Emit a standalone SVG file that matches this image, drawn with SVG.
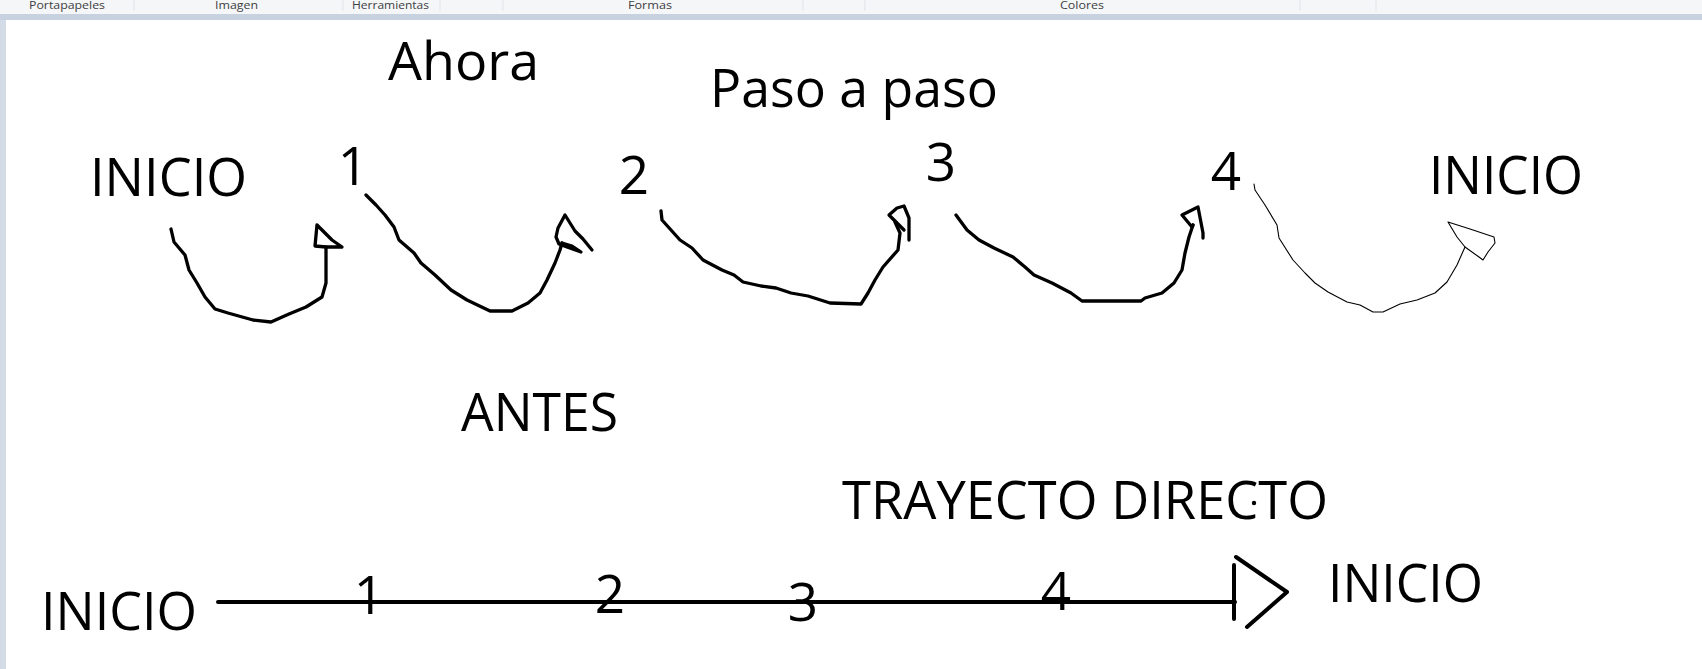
<svg xmlns="http://www.w3.org/2000/svg" width="1702" height="669" viewBox="0 0 1702 669">
<style>
.lbl{font-family:"Open Sans","Noto Sans","Liberation Sans",sans-serif;font-size:53px;fill:#000}
.num{font-family:"Open Sans","Noto Sans","Liberation Sans",sans-serif;font-size:53px;fill:#000;text-anchor:middle}
.hdr{font-family:"Open Sans","Noto Sans","Liberation Sans",sans-serif;font-size:11px;fill:#3c4043}
.sep{stroke:#e1e3e6;stroke-width:1}
.ink{fill:none;stroke:#000;stroke-width:3.3;stroke-linejoin:round;stroke-linecap:round}
.thin{fill:none;stroke:#000;stroke-width:1.1;stroke-linejoin:round;stroke-linecap:round}
.bold{fill:none;stroke:#000;stroke-width:4;stroke-linejoin:round;stroke-linecap:round}
</style>
<g id="chrome">
<rect x="0" y="0" width="1702" height="669" fill="#ffffff"/>
<rect x="0" y="0" width="1702" height="14" fill="#f5f6f7"/>
<rect x="0" y="14" width="1702" height="6" fill="#c8d1df"/>
<rect x="0" y="20" width="6" height="649" fill="#d3dbe7"/>
<line class="sep" x1="134" y1="0" x2="134" y2="11"/>
<line class="sep" x1="343" y1="0" x2="343" y2="11"/>
<line class="sep" x1="440" y1="0" x2="440" y2="11"/>
<line class="sep" x1="503" y1="0" x2="503" y2="11"/>
<line class="sep" x1="803" y1="0" x2="803" y2="11"/>
<line class="sep" x1="865" y1="0" x2="865" y2="11"/>
<line class="sep" x1="1300" y1="0" x2="1300" y2="11"/>
<line class="sep" x1="1376" y1="0" x2="1376" y2="11"/>
<text class="hdr" x="29" y="9" textLength="76" lengthAdjust="spacingAndGlyphs">Portapapeles</text>
<text class="hdr" x="215" y="9" textLength="43" lengthAdjust="spacingAndGlyphs">Imagen</text>
<text class="hdr" x="352" y="9" textLength="77" lengthAdjust="spacingAndGlyphs">Herramientas</text>
<text class="hdr" x="628" y="9" textLength="44" lengthAdjust="spacingAndGlyphs">Formas</text>
<text class="hdr" x="1060" y="9" textLength="44" lengthAdjust="spacingAndGlyphs">Colores</text>
</g>
<g id="titles">
<text id="t-ahora" class="lbl" x="388" y="80" textLength="151" lengthAdjust="spacingAndGlyphs">Ahora</text>
<text id="t-paso" class="lbl" x="710" y="107" textLength="288" lengthAdjust="spacingAndGlyphs">Paso a paso</text>
<text id="t-antes" class="lbl" x="461" y="431" textLength="157" lengthAdjust="spacingAndGlyphs">ANTES</text>
<text id="t-trayecto" class="lbl" x="842" y="519" textLength="486" lengthAdjust="spacingAndGlyphs">TRAYECTO DIRECTO</text>
<circle cx="1254" cy="503" r="2.2" fill="#000"/>
</g>
<g id="n-top-inicio"><text class="lbl" x="90" y="196" textLength="157" lengthAdjust="spacingAndGlyphs">INICIO</text></g>
<g id="n-top-1"><text class="num" x="353" y="185">1</text></g>
<g id="n-top-2"><text class="num" x="634" y="194">2</text></g>
<g id="n-top-3"><text class="num" x="941" y="181">3</text></g>
<g id="n-top-4"><text class="num" x="1226" y="190">4</text></g>
<g id="n-top-inicio2"><text class="lbl" x="1429" y="194" textLength="154" lengthAdjust="spacingAndGlyphs">INICIO</text></g>
<g id="n-bot-inicio"><text class="lbl" x="41" y="630" textLength="156" lengthAdjust="spacingAndGlyphs">INICIO</text></g>
<g id="n-bot-1"><text class="num" x="369" y="614">1</text></g>
<g id="n-bot-2"><text class="num" x="610" y="613">2</text></g>
<g id="n-bot-3"><text class="num" x="803" y="621">3</text></g>
<g id="n-bot-4"><text class="num" x="1056" y="610">4</text></g>
<g id="n-bot-inicio2"><text class="lbl" x="1328" y="602" textLength="155" lengthAdjust="spacingAndGlyphs">INICIO</text></g>
<g id="connectors">
<path class="ink" d="M171,229 L174,242 L185,255 L189,270 L197,283 L205,297 L215,309 L228,313 L253,320 L271,322 L289,314 L306,307 L322,297 L326,283 L326,247"/>
<path class="ink" d="M326,247 L315,246 L317,225 L332,240 L342,247 Z"/>
<path class="ink" d="M366,195 L376,205 L385,215 L394,227 L399,240 L414,253 L421,263 L435,275 L451,290 L467,300 L490,311 L512,311 L528,303 L540,293 L547,280 L555,263 L560,250 L562,243"/>
<path class="ink" d="M592,250 L583,239 L575,231 L565,215 L558,228 L556,237 L559,244 L567,247 L581,252 L572,246 L562,243"/>
<path class="ink" d="M661,211 L662,220 L671,230 L680,240 L692,248 L703,260 L722,270 L734,275 L743,282 L761,286 L776,288 L791,293 L808,296 L830,303 L861,304 L868,293 L875,280 L883,267 L898,250 L900,233 L895,222"/>
<path class="ink" d="M909,240 L909,218 L904,206 L897,208 L889,215 L895,221 L904,230"/>
<path class="ink" d="M956,215 L967,230 L979,240 L994,248 L1013,257 L1025,267 L1034,275 L1052,283 L1071,293 L1082,301 L1141,301 L1145,298 L1162,293 L1174,283 L1182,270 L1185,253 L1189,237 L1193,225"/>
<path class="ink" d="M1203,238 L1203,233 L1198,207 L1182,215 L1192,227 L1193,225"/>
<path class="thin" d="M1254,184 L1255,190 L1265,205 L1277,225 L1279,238 L1293,260 L1305,273 L1315,283 L1328,292 L1347,302 L1360,305 L1373,312 L1383,312 L1400,304 L1417,300 L1435,293 L1447,282 L1457,265 L1465,247"/>
<path class="thin" d="M1465,247 L1457,237 L1448,222 L1470,229 L1494,237 L1495,243 L1488,252 L1483,260 L1479,257 L1465,247"/>
<path class="bold" d="M218,602 L1235,602"/>
<path class="bold" d="M1234,565 L1234,619"/>
<path class="bold" d="M1236,557 L1287,592 L1247,627"/>
</g>
</svg>
